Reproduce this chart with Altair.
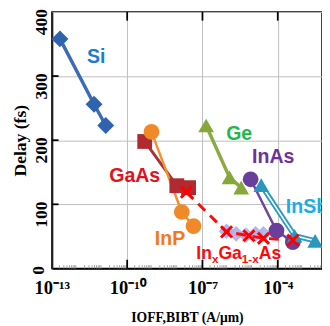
import altair as alt
import pandas as pd

# ---- data ----
si_x = [2.1e-13, 4.8e-12, 1.4e-11]
si_y = [358, 256, 223]
gaas_x = [5.0e-10, 9.5e-9, 2.8e-8]
gaas_y = [198, 129, 126]
inp_x = [9.3e-10, 1.5e-8, 4.4e-8]
inp_y = [213, 88, 66]
ge_x = [1.4e-7, 1.2e-6, 3.5e-6]
ge_y = [223, 142, 126]
inas_x = [8.3e-6, 8.9e-5, 4.0e-4]
inas_y = [139, 59, 41]
insb_x = [2.2e-5, 4.7e-4, 3.1e-3]
insb_y = [130, 51, 43]
ingaas_x = [2.3e-8, 9.1e-7, 7.1e-6, 2.7e-5, 4.0e-4]
ingaas_y = [119, 57, 51, 47, 44]
lav_x = [9.1e-7, 2.2e-6, 5.4e-6, 1.3e-5, 2.7e-5]
lav_y = [58, 54, 52, 54, 54]

label_text = ["Si", "GaAs", "InP", "Ge", "InAs", "InSb"]
label_x = [5.8e-12, 2.0e-10, 5.1e-9, 2.9e-6, 6.6e-5, 2.1e-4]
label_y = [330, 144, 45, 210, 174, 96]
label_color = ["#1E7AD2", "#E5101C", "#F07A18", "#1FB84E", "#7030A0", "#19AEE8"]
label_align = ["center", "center", "center", "center", "center", "left"]

ingaas_label_x = 5.7e-8
ingaas_label_y = 15
ingaas_parts = ["In", "x", "Ga", "1-x", "As"]

x_ticks = [1e-13, 1e-10, 1e-7, 1e-4]
x_tick_labels = ["10⁻¹³", "10⁻¹⁰", "10⁻⁷", "10⁻⁴"]
x_tick_exp = [-13, -10, -7, -4]
y_ticks = [100, 200, 300, 400]
y_zero_label = "0"
x_domain = [1e-13, 5.8e-3]
y_domain = [0, 400]

# inward tick marks (axis decoration)
x_major_in = [1e-10, 1e-7, 1e-4]
y_major_in = [100, 200, 300]
x_minor = [m * 10.0 ** e for e in range(-13, -2) for m in range(2, 10)]

# ---- build ----
label_expr = ""
for e, t in zip(x_tick_exp, x_tick_labels):
    label_expr += f"abs(log(datum.value)/LN10 - ({e})) < 0.01 ? '{t}' : "
label_expr += "''"

xscale = alt.Scale(type="log", domain=x_domain, nice=False)
yscale = alt.Scale(domain=y_domain, nice=False, zero=False)

xaxis = alt.Axis(
    values=x_ticks, labelExpr=label_expr, grid=True, gridColor="#BDBDBD",
    labelFont="Liberation Serif", labelFontWeight="bold", labelFontSize=19,
    labelColor="black", labelPadding=11, labelFlush=False, ticks=False,
    domainColor="black", domainWidth=1.5,
    title="IOFF,BIBT  (A/μm)", titleFont="Liberation Serif", titleFontSize=14,
    titleFontWeight="bold", titleColor="black", titlePadding=13,
)
yaxis = alt.Axis(
    values=y_ticks, grid=True, gridColor="#BDBDBD",
    labelFont="Liberation Serif", labelFontWeight="bold", labelFontSize=18,
    labelColor="black", labelAngle=270, labelAlign="center", labelBaseline="bottom",
    labelPadding=2, labelOffset=10, labelFlush=False, ticks=False,
    domainColor="#222222", domainWidth=2,
    title="Delay (fs)", titleFont="Liberation Serif", titleFontSize=18,
    titleFontWeight="bold", titleColor="black", titlePadding=3,
)


def enc(ch, x2=None, y2=None):
    kw = dict(
        x=alt.X("x:Q", scale=xscale, axis=xaxis),
        y=alt.Y("y:Q", scale=yscale, axis=yaxis),
    )
    if x2:
        kw["x2"] = alt.X2(x2)
    if y2:
        kw["y2"] = alt.Y2(y2)
    return ch.encode(**kw)


def df_of(xs, ys):
    return pd.DataFrame({"x": xs, "y": ys, "o": list(range(len(xs)))})


def line(xs, ys, color, width, dash=None):
    kw = dict(color=color, strokeWidth=width)
    if dash is not None:
        kw["strokeDash"] = dash
    return enc(alt.Chart(df_of(xs, ys)).mark_line(**kw)).encode(order="o:Q")


def pts(xs, ys, color, shape, size, opacity=1.0):
    return enc(alt.Chart(df_of(xs, ys)).mark_point(
        filled=True, shape=shape, size=size, color=color, opacity=opacity))


layers = []

# tick decorations
tb = pd.DataFrame({"x": x_major_in, "y": [0] * 3, "y2": [13.5] * 3})
tt = pd.DataFrame({"x": x_major_in, "y": [400] * 3, "y2": [386.5] * 3})
tl = pd.DataFrame({"x": [1e-13] * 3, "x2": [1.85e-13] * 3, "y": y_major_in})
tm = pd.DataFrame({"x": x_minor, "y": [0] * len(x_minor), "y2": [5] * len(x_minor)})
layers.append(enc(alt.Chart(tm).mark_rule(color="#A0A0A0", strokeWidth=1), y2="y2"))
layers.append(enc(alt.Chart(tb).mark_rule(color="black", strokeWidth=1.8), y2="y2"))
layers.append(enc(alt.Chart(tt).mark_rule(color="black", strokeWidth=1.8), y2="y2"))
layers.append(enc(alt.Chart(tl).mark_rule(color="black", strokeWidth=1.8), x2="x2"))

# y "0" label, placed just above the axis like the reference
z = pd.DataFrame({"x": [1e-13], "y": [0], "t": [y_zero_label]})
layers.append(enc(alt.Chart(z).mark_text(
    font="Liberation Serif", fontWeight="bold", fontSize=18, color="black",
    angle=270, align="center", baseline="bottom", dx=-2, dy=-4)).encode(text="t:N"))

layers.append(pts(lav_x, lav_y, "#A9A9E6", "diamond", 260, 0.85))
layers.append(line(si_x, si_y, "#3A6BB4", 3.5))
layers.append(line(gaas_x, gaas_y, "#A8323A", 3))
layers.append(line(inp_x, inp_y, "#F0912E", 2.5))
layers.append(line(ge_x, ge_y, "#8CAA42", 3.5))
layers.append(line(inas_x, inas_y, "#6E44A0", 2.5))
layers.append(line(insb_x, insb_y, "#2C9CC2", 5.5))
layers.append(line(insb_x, insb_y, "white", 1.6))
layers.append(line(ingaas_x, ingaas_y, "#FF0A0A", 3, [10, 7]))
layers.append(pts(si_x, si_y, "#2F63AD", "diamond", 300))
layers.append(pts(gaas_x, gaas_y, "#B02A32", "square", 230))
layers.append(pts(inp_x, inp_y, "#F08A28", "circle", 260))
layers.append(pts(ge_x, ge_y, "#86A83A", "triangle-up", 260))
layers.append(pts(inas_x, inas_y, "#6A3F9C", "circle", 260))
layers.append(pts(insb_x, insb_y, "#2A97BD", "triangle-up", 260))
layers.append(enc(alt.Chart(df_of(ingaas_x, ingaas_y)).mark_point(
    shape="M-1,-1L1,1M-1,1L1,-1", filled=False, size=130, color="#FF0000",
    strokeWidth=3, opacity=1)))

lab_df = pd.DataFrame({"x": label_x, "y": label_y, "t": label_text})
for i in range(len(label_text)):
    sub = lab_df.iloc[[i]]
    layers.append(enc(alt.Chart(sub).mark_text(
        font="Liberation Sans", fontWeight="bold", fontSize=20,
        color=label_color[i], align=label_align[i], baseline="middle")).encode(text="t:N"))

part_dx = [0, 16, 22.7, 46.7, 64]
part_dy = [0, 4, 0, 4, 0]
part_size = [18, 12, 18, 12, 18]
for p, dx, dy, fs in zip(ingaas_parts, part_dx, part_dy, part_size):
    d = pd.DataFrame({"x": [ingaas_label_x], "y": [ingaas_label_y], "t": [p]})
    layers.append(enc(alt.Chart(d).mark_text(
        font="Liberation Sans", fontWeight="bold", fontSize=fs, color="#FF0A0A",
        align="left", baseline="alphabetic", dx=dx, dy=dy)).encode(text="t:N"))

chart = alt.layer(*layers).properties(
    width=277, height=263,
    autosize=alt.AutoSizeParams(type="none"),
    padding={"left": 45, "top": 0, "right": 0, "bottom": 56},
).configure_view(stroke="black", strokeWidth=1.5)

chart.save("out.html", embed_options={"renderer": "svg", "actions": False})
